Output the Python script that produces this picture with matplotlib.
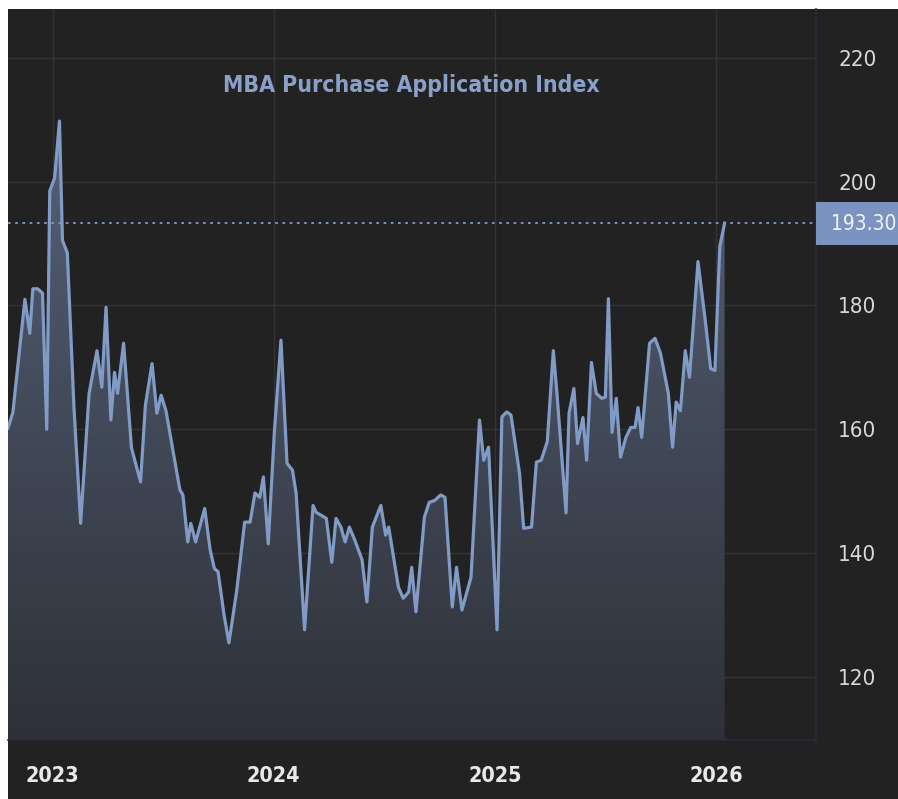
import numpy as np
import pandas as pd
import matplotlib
matplotlib.use("Agg")
import matplotlib.pyplot as plt
import matplotlib.dates as mdates
from matplotlib.patches import Rectangle, Polygon

# weekly MBA purchase index (turning points)
dates = [
    "2022-10-19", "2022-10-27", "2022-11-16", "2022-11-24", "2022-11-29", "2022-12-07",
    "2022-12-15", "2022-12-22", "2022-12-27", "2023-01-04", "2023-01-12", "2023-01-17",
    "2023-01-25", "2023-02-05", "2023-02-16", "2023-03-02", "2023-03-15", "2023-03-23",
    "2023-03-30", "2023-04-07", "2023-04-13", "2023-04-18", "2023-04-28", "2023-05-11",
    "2023-05-26", "2023-06-03", "2023-06-14", "2023-06-22", "2023-06-29", "2023-07-07",
    "2023-07-30", "2023-08-04", "2023-08-12", "2023-08-17", "2023-08-25", "2023-09-09",
    "2023-09-18", "2023-09-25", "2023-10-01", "2023-10-11", "2023-10-19", "2023-11-01",
    "2023-11-14", "2023-11-23", "2023-12-01", "2023-12-09", "2023-12-15", "2023-12-23",
    "2024-01-02", "2024-01-13", "2024-01-23", "2024-02-01", "2024-02-07", "2024-02-21",
    "2024-03-06", "2024-03-11", "2024-03-28", "2024-04-06", "2024-04-13", "2024-04-21",
    "2024-04-28", "2024-05-05", "2024-05-14", "2024-05-26", "2024-06-03", "2024-06-12",
    "2024-06-26", "2024-07-04", "2024-07-09", "2024-07-25", "2024-08-02", "2024-08-11",
    "2024-08-16", "2024-08-23", "2024-09-06", "2024-09-14", "2024-09-23", "2024-10-03",
    "2024-10-10", "2024-10-22", "2024-10-29", "2024-11-07", "2024-11-22", "2024-12-06",
    "2024-12-13", "2024-12-21", "2025-01-04", "2025-01-12", "2025-01-20", "2025-01-27",
    "2025-02-10", "2025-02-17", "2025-03-02", "2025-03-10", "2025-03-18", "2025-03-28",
    "2025-04-07", "2025-04-13", "2025-04-28", "2025-05-03", "2025-05-11", "2025-05-17",
    "2025-05-26", "2025-06-01", "2025-06-09", "2025-06-17", "2025-06-26", "2025-07-02",
    "2025-07-07", "2025-07-13", "2025-07-20", "2025-07-27", "2025-08-05", "2025-08-13",
    "2025-08-20", "2025-08-25", "2025-08-31", "2025-09-13", "2025-09-22", "2025-10-01",
    "2025-10-14", "2025-10-21", "2025-10-27", "2025-11-03", "2025-11-11", "2025-11-18",
    "2025-12-02", "2025-12-14", "2025-12-23", "2025-12-30", "2026-01-07", "2026-01-15",
]
values = [
    160.2, 162.7, 181.0, 175.5, 182.7, 182.7,
    182.0, 160.0, 198.5, 200.6, 209.8, 190.5,
    188.5, 163.5, 144.8, 165.8, 172.7, 166.8,
    179.7, 161.5, 169.2, 165.8, 173.9, 157.0,
    151.5, 163.9, 170.6, 162.6, 165.5, 163.0,
    150.2, 149.4, 141.8, 144.8, 141.8, 147.2,
    140.5, 137.5, 137.0, 130.0, 125.5, 134.0,
    145.0, 145.0, 149.7, 149.0, 152.3, 141.5,
    159.4, 174.4, 154.5, 153.4, 149.7, 127.6,
    147.7, 146.6, 145.6, 138.5, 145.6, 144.2,
    141.8, 144.2, 142.1, 138.9, 132.1, 144.2,
    147.7, 142.9, 144.2, 134.5, 132.7, 133.7,
    137.7, 130.5, 145.8, 148.2, 148.5, 149.4,
    149.0, 131.3, 137.7, 130.8, 136.1, 161.5,
    155.0, 157.1, 127.6, 162.0, 162.8, 162.3,
    153.0, 144.0, 144.2, 154.7, 155.0, 158.0,
    172.7, 165.8, 146.5, 162.6, 166.6, 157.7,
    161.9, 155.0, 170.8, 165.8, 165.0, 165.2,
    181.1, 159.5, 165.0, 155.5, 158.7, 160.3,
    160.3, 163.5, 158.7, 173.9, 174.7, 172.3,
    165.8, 157.1, 164.4, 163.0, 172.7, 168.4,
    187.1, 177.6, 169.8, 169.5, 189.5, 193.3,
]
title = "MBA Purchase Application Index"
year_ticks = ["2023", "2024", "2025", "2026"]
y_ticks = [120, 140, 160, 180, 200, 220]
last_label = "193.30"

BG = "#222222"
GRID = "#343434"
LINE = "#7f9bc6"
BORDER = "#2a2a3c"
font = dict(family="DejaVu Sans", fontstretch="condensed")

x = mdates.date2num(pd.to_datetime(dates))
y = np.array(values)

fig = plt.figure(figsize=(8.98, 7.99), dpi=100)
fig.patch.set_facecolor("white")
fig.add_artist(Rectangle((8 / 898, 0), 1, (799 - 9) / 799, transform=fig.transFigure,
                         facecolor=BG, edgecolor="none", zorder=-10))

ax = fig.add_axes([8 / 898, 59 / 799, 808 / 898, (740 - 9) / 799])
ax.set_facecolor(BG)
ax.set_xlim(mdates.datestr2num("2022-10-19"), mdates.datestr2num("2026-06-15"))
ax.set_ylim(109.8, 227.9)

# gradient fill under the line
ylo = ax.get_ylim()[0]
grad = np.linspace(0, 1, 256)
top_c = np.array([0x55, 0x60, 0x78]) / 255
bot_c = np.array([0x2e, 0x31, 0x37]) / 255
img = np.ones((256, 1, 4))
for k in range(3):
    img[:, 0, k] = bot_c[k] + (top_c[k] - bot_c[k]) * grad
im = ax.imshow(img, aspect="auto", origin="lower", extent=[x[0], x[-1], ylo, y.max()],
               zorder=1, interpolation="bilinear")
poly = Polygon(np.column_stack([np.r_[x[0], x, x[-1]], np.r_[ylo, y, ylo]]),
               closed=True, facecolor="none", edgecolor="none")
ax.add_patch(poly)
im.set_clip_path(poly)

ax.plot(x, y, color=LINE, lw=2.3, zorder=3, solid_joinstyle="round")
ax.axhline(values[-1], color=LINE, lw=1.3, ls=(0, (1.5, 2.5)), zorder=2)

# grid
for v in y_ticks:
    ax.axhline(v, color=GRID, lw=1, zorder=0)
year_pos = [mdates.datestr2num(f"{t}-01-01") for t in year_ticks]
for p in year_pos:
    ax.axvline(p, color=GRID, lw=1, zorder=0)

for s in ["top", "left"]:
    ax.spines[s].set_visible(False)
for s in ["right", "bottom"]:
    ax.spines[s].set_color(BORDER)
    ax.spines[s].set_linewidth(1.2)

ax.yaxis.tick_right()
ax.set_yticks(y_ticks)
ax.set_yticklabels([str(v) for v in y_ticks], color="#d8d8d8", fontsize=16, **font)
ax.tick_params(axis="y", length=0, pad=16)
ax.set_xticks(year_pos)
ax.set_xticklabels(year_ticks, color="#e8e8e8", fontsize=15.5, fontweight="bold", **font)
ax.tick_params(axis="x", length=0, pad=19)

ax.text(0.499, 215.5, title, transform=ax.get_yaxis_transform(), ha="center", va="center",
        color="#8aa0c8", fontsize=16.5, fontweight="bold", **font)

# last value tag
trans = ax.get_yaxis_transform()
ax.add_patch(Rectangle((1.0, values[-1] - 3.55), 0.102, 6.9, transform=trans,
                       facecolor="#7b93c0", edgecolor="none", clip_on=False, zorder=5))
ax.text(1.019, values[-1] - 0.2, last_label, transform=trans, ha="left", va="center",
        color="#f4f4f4", fontsize=15, **font, clip_on=False, zorder=6)

fig.savefig("out.png", dpi=100, facecolor=fig.get_facecolor())
